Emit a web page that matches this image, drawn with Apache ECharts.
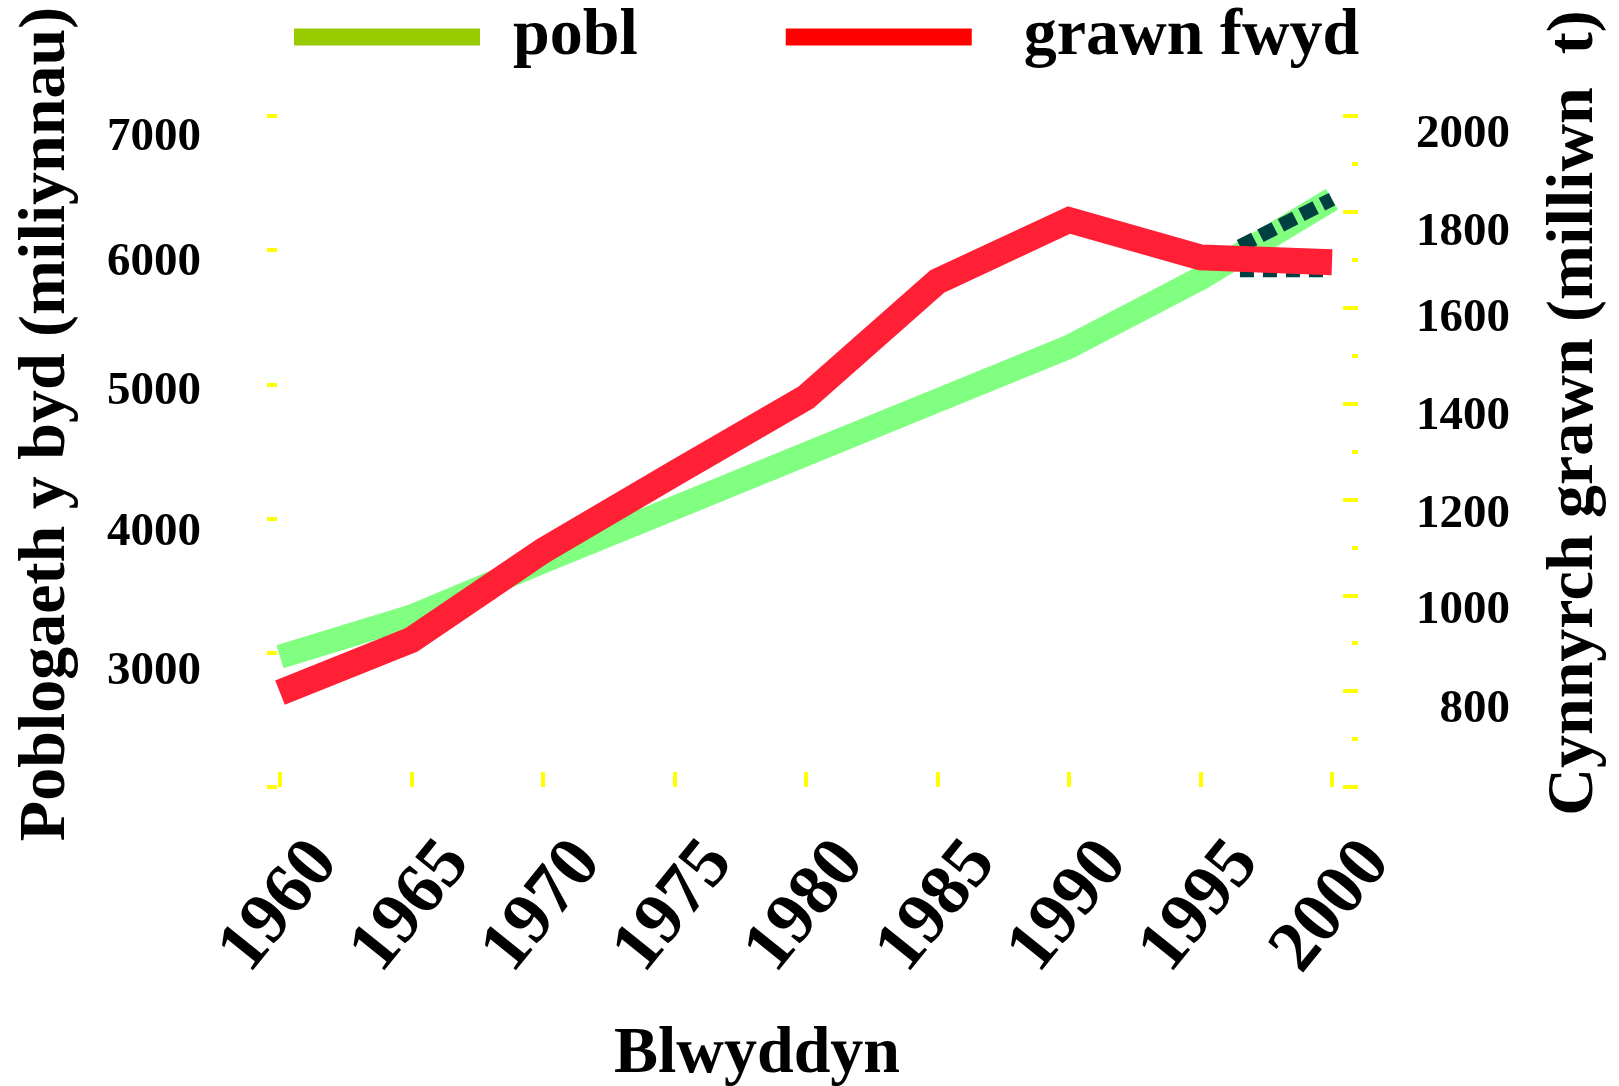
<!DOCTYPE html>
<html>
<head>
<meta charset="utf-8">
<script src="https://cdn.jsdelivr.net/npm/echarts@6/dist/echarts.min.js"></script>
<style>
html,body{margin:0;padding:0;background:#fff;}
#c{width:1619px;height:1086px;}
</style>
</head>
<body>
<div id="c"></div>
<script>
// ---- data ----
var years = [1960, 1965, 1970, 1975, 1980, 1985, 1990, 1995, 2000];
var pobl = [2970, 3270, 3680, 4080, 4480, 4880, 5280, 5790, 6380];      // millions (left axis)
var grawnFwyd = [797, 907, 1093, 1254, 1413, 1655, 1783, 1705, 1695];   // million t (right axis)
var poblDashYears = [1996.5, 2000];
var poblDash = [6030, 6380];
var grawnDashYears = [1996.5, 2000];
var grawnDash = [1678, 1678];
var leftTicks = [2000, 3000, 4000, 5000, 6000, 7000];
var rightTicks = [600, 800, 1000, 1200, 1400, 1600, 1800, 2000];

// label vertical nudges (px, styling only)
var leftNudge = {7000: 22, 6000: 13, 5000: 7, 4000: 14, 3000: 19};
var rightNudge = {2000: 19, 1800: 21, 1600: 11, 1400: 13, 1200: 15, 1000: 16, 800: 19};

function pairs(xs, ys){ return xs.map(function(x,i){ return [x, ys[i]]; }); }

var FONT = "'Liberation Serif', 'Times New Roman', serif";
var YEL = '#ffff00';

function richFor(){
  var r = {};
  for (var k = 0; k <= 30; k++) {
    r['o' + k] = {fontFamily: FONT, fontWeight: 'bold', fontSize: 47, color: '#000', padding: [2*k, 0, 0, 0]};
  }
  return r;
}

var chart = echarts.init(document.getElementById('c'), null, {renderer:'canvas'});
chart.setOption({
  animation: false,
  backgroundColor: '#ffffff',
  grid: {left: 280, right: 287, top: 116, bottom: 299, containLabel: false},
  legend: {
    left: 294, top: 4, padding: 0,
    itemWidth: 186, itemHeight: 17, itemGap: 148,
    selectedMode: false,
    textStyle: {fontFamily: FONT, fontWeight: 'bold', fontSize: 66, color: '#000', padding: [0,0,0,28]},
    data: [
      {name: 'pobl', icon: 'rect', itemStyle: {color: '#99cc00'}},
      {name: 'grawn fwyd', icon: 'rect', itemStyle: {color: '#ff0000'},
       textStyle: {fontFamily: FONT, fontWeight: 'bold', fontSize: 66, color: '#000', padding: [0,0,0,47]}}
    ]
  },
  xAxis: {
    type: 'value', min: 1960, max: 2000, interval: 5,
    axisLine: {show: false},
    axisTick: {show: true, inside: true, length: 15, lineStyle: {color: YEL, width: 4}},
    splitLine: {show: false},
    axisLabel: {
      rotate: 51, align: 'center', verticalAlign: 'middle', margin: 120,
      fontFamily: FONT, fontWeight: 'bold', fontSize: 72, color: '#000',
      formatter: function(v){ return String(v); }
    }
  },
  yAxis: [
    {
      type: 'value', position: 'left', offset: 3,
      min: leftTicks[0], max: leftTicks[leftTicks.length-1], interval: 1000,
      axisLine: {show: false},
      axisTick: {show: true, length: 10, lineStyle: {color: YEL, width: 4}},
      splitLine: {show: false},
      axisLabel: {
        margin: 76, rich: richFor(),
        formatter: function(v){
          if (v === leftTicks[0]) return '';
          return '{o' + (leftNudge[v] || 0) + '|' + v + '}';
        }
      }
    },
    {
      type: 'value', position: 'right', offset: 26,
      min: rightTicks[0], max: rightTicks[rightTicks.length-1], interval: 200,
      axisLine: {show: false},
      axisTick: {show: true, inside: true, length: 15, lineStyle: {color: YEL, width: 4}},
      minorTick: {show: true, splitNumber: 2, length: 6, lineStyle: {color: YEL, width: 4}},
      splitLine: {show: false},
      axisLabel: {
        margin: 152, align: 'right', rich: richFor(),
        formatter: function(v){
          if (v === rightTicks[0]) return '';
          return '{o' + (rightNudge[v] || 0) + '|' + v + '}';
        }
      }
    }
  ],
  series: [
    {
      name: 'pobl', type: 'line', yAxisIndex: 0, symbol: 'none', silent: true,
      data: pairs(years, pobl),
      lineStyle: {color: '#80ff80', width: 24, cap: 'butt', join: 'miter'},
      itemStyle: {color: '#80ff80'}, z: 2
    },
    {
      name: 'pobl-dash', type: 'line', yAxisIndex: 0, symbol: 'none', silent: true,
      data: pairs(poblDashYears, poblDash),
      lineStyle: {color: '#004040', width: 14, type: [16, 7], cap: 'butt'}, z: 3
    },
    {
      name: 'grawn-dash', type: 'line', yAxisIndex: 1, symbol: 'none', silent: true,
      data: pairs(grawnDashYears, grawnDash),
      lineStyle: {color: '#004040', width: 14, type: [14, 9], cap: 'butt'}, z: 3
    },
    {
      name: 'grawn fwyd', type: 'line', yAxisIndex: 1, symbol: 'none', silent: true,
      data: pairs(years, grawnFwyd),
      lineStyle: {color: '#ff2036', width: 26, cap: 'butt', join: 'miter'},
      itemStyle: {color: '#ff2036'}, z: 4
    }
  ],
  graphic: [
    {type: 'text', x: 757, y: 1055, z: 10,
     style: {text: 'Blwyddyn', font: 'bold 66px ' + FONT, fill: '#000', align: 'center', verticalAlign: 'middle'}},
    {type: 'text', x: 47, y: 424, rotation: Math.PI/2, z: 10,
     style: {text: 'Poblogaeth y byd (miliynnau)', font: 'bold 66px ' + FONT, fill: '#000', align: 'center', verticalAlign: 'middle'}},
    {type: 'text', x: 1575, y: 413, rotation: Math.PI/2, z: 10,
     style: {text: 'Cynnyrch grawn (milliwn  t)', font: 'bold 66px ' + FONT, fill: '#000', align: 'center', verticalAlign: 'middle'}}
  ]
});
</script>
</body>
</html>
